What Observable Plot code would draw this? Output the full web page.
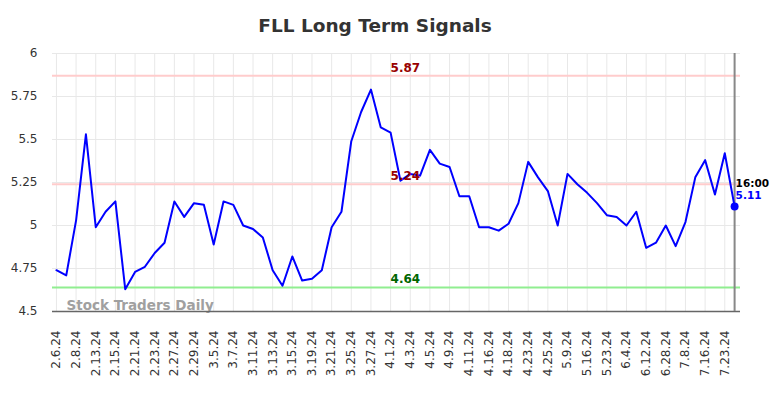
<!DOCTYPE html>
<html><head><meta charset="utf-8">
<script src="https://cdn.jsdelivr.net/npm/d3@7"></script>
<script src="https://cdn.jsdelivr.net/npm/@observablehq/plot@0.6"></script>
<style>
body{margin:0;background:#fff;font-family:"DejaVu Sans",sans-serif;}
#title{width:750px;height:40px;line-height:52px;text-align:center;font-weight:bold;font-size:18.5px;color:#333;}
#chart svg{display:block;}
</style>
</head><body>
<div id="title">FLL Long Term Signals</div>
<div id="chart"></div>
<script>
const tickLabels = ["2.6.24","2.8.24","2.13.24","2.15.24","2.21.24","2.23.24","2.27.24","2.29.24","3.5.24","3.7.24","3.11.24","3.13.24","3.15.24","3.19.24","3.21.24","3.25.24","3.27.24","4.1.24","4.3.24","4.5.24","4.9.24","4.11.24","4.16.24","4.18.24","4.23.24","4.25.24","5.9.24","5.16.24","5.23.24","6.4.24","6.12.24","6.28.24","7.8.24","7.16.24","7.23.24"];
const values = [4.74,4.71,5.03,5.53,4.99,5.08,5.14,4.63,4.73,4.76,4.84,4.90,5.14,5.05,5.13,5.12,4.89,5.14,5.12,5.00,4.98,4.93,4.74,4.65,4.82,4.68,4.69,4.74,4.99,5.08,5.49,5.66,5.79,5.57,5.54,5.26,5.30,5.29,5.44,5.36,5.34,5.17,5.17,4.99,4.99,4.97,5.01,5.13,5.37,5.28,5.20,5.00,5.30,5.24,5.19,5.13,5.06,5.05,5.00,5.08,4.87,4.90,5.00,4.88,5.02,5.28,5.38,5.18,5.42,5.11];
const yTicks = [4.5,4.75,5,5.25,5.5,5.75,6];
const resistance = [5.87,5.24];
const support = [4.64];
const lastTime = "16:00";

const data = values.map((v,i)=>({i,v}));
const last = data[data.length-1];
const xTicks = tickLabels.map((_,k)=>2*k);
const midX = 35.5;

const plot = Plot.plot({
  width:784, height:358,
  marginLeft:52, marginRight:44, marginTop:13, marginBottom:87,
  style:{fontFamily:"DejaVu Sans, sans-serif", background:"#fff", color:"#333"},
  x:{domain:[-0.4,69.6], axis:null},
  y:{domain:[4.5,6], axis:null},
  marks:[
    Plot.gridX(xTicks,{stroke:"#e8e8e8", strokeOpacity:1, strokeWidth:1}),
    Plot.gridY(yTicks,{stroke:"#e8e8e8", strokeOpacity:1, strokeWidth:1}),
    Plot.axisX({ticks:xTicks, tickFormat:i=>tickLabels[i/2], tickRotate:-90, tickSize:0, tickPadding:19, fontSize:12, label:null, fill:"#333"}),
    Plot.axisY({ticks:yTicks, tickFormat:d=>String(d), tickSize:0, tickPadding:15, fontSize:12, label:null, fill:"#333"}),
    Plot.ruleY(resistance,{stroke:"#ffcccc", strokeWidth:2}),
    Plot.ruleY(support,{stroke:"#90ee90", strokeWidth:2}),
    Plot.text(["Stock Traders Daily"],{frameAnchor:"bottom-left", dx:14, dy:-2, text:d=>d, fill:"#a0a0a0", fontWeight:"bold", fontSize:13.5, textAnchor:"start", lineAnchor:"bottom"}),
    Plot.ruleY([4.5],{stroke:"#666", strokeWidth:1.5}),
    Plot.ruleX([last],{x:"i", stroke:"#888", strokeWidth:2}),
    Plot.line(data,{x:"i", y:"v", stroke:"#0000ff", strokeWidth:2}),
    Plot.text(resistance,{x:()=>midX, y:d=>d, text:d=>d.toFixed(2), dy:-8, fill:"#990000", fontWeight:"bold", fontSize:12, textAnchor:"middle"}),
    Plot.text(support,{x:()=>midX, y:d=>d, text:d=>d.toFixed(2), dy:-8, fill:"#006600", fontWeight:"bold", fontSize:12, textAnchor:"middle"}),
    Plot.dot([last],{x:"i", y:"v", r:4, fill:"#0000ff", stroke:null}),
    Plot.text([last],{x:"i", y:"v", text:()=>lastTime, dx:1, dy:-23, fill:"#000", fontWeight:"bold", fontSize:10.5, textAnchor:"start"}),
    Plot.text([last],{x:"i", y:"v", text:d=>d.v.toFixed(2), dx:1, dy:-10.5, fill:"#0000ff", fontWeight:"bold", fontSize:10.5, textAnchor:"start"})
  ]
});
document.getElementById("chart").appendChild(plot);
</script>
</body></html>
